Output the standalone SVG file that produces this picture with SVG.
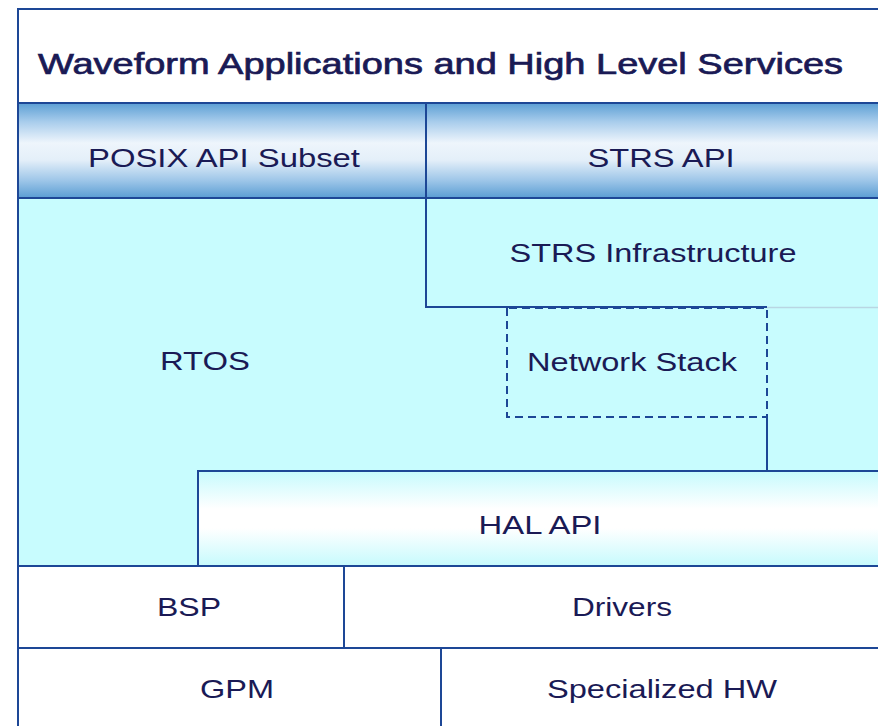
<svg xmlns="http://www.w3.org/2000/svg" width="878" height="726" viewBox="0 0 878 726">
<defs>
<linearGradient id="apiGrad" x1="0" y1="0" x2="0" y2="1">
<stop offset="0" stop-color="#5c9fd4"/>
<stop offset="0.2" stop-color="#a9cdec"/>
<stop offset="0.42" stop-color="#eef5fc"/>
<stop offset="0.6" stop-color="#e4eff9"/>
<stop offset="0.82" stop-color="#9cc5e8"/>
<stop offset="1" stop-color="#5a9dd3"/>
</linearGradient>
<linearGradient id="halGrad" x1="0" y1="0" x2="0" y2="1">
<stop offset="0" stop-color="#c6fafd"/>
<stop offset="0.4" stop-color="#ffffff"/>
<stop offset="0.6" stop-color="#ffffff"/>
<stop offset="1" stop-color="#c6fafd"/>
</linearGradient>
<style>
.ln{stroke:#1d4796;stroke-width:2;fill:none}
.lbl{font-family:"Liberation Sans",Arial,sans-serif;font-size:26px;fill:#1a1a55;text-anchor:middle}
.title{font-family:"Liberation Sans",Arial,sans-serif;font-size:29px;fill:#1a1a55;stroke:#1a1a55;stroke-width:0.7}
.cyan{fill:#c8fcfe}
</style>
</defs>
<rect width="878" height="726" fill="#ffffff"/>

<g id="title">
<rect x="18" y="8" width="860" height="95" fill="#ffffff"/>
<text class="title" x="38" y="74" textLength="805" lengthAdjust="spacingAndGlyphs">Waveform Applications and High Level Services</text>
</g>

<g id="posix-api">
<rect x="18" y="103" width="408" height="95" fill="url(#apiGrad)"/>
<text class="lbl" x="224" y="167" textLength="272" lengthAdjust="spacingAndGlyphs">POSIX API Subset</text>
</g>

<g id="strs-api">
<rect x="426" y="103" width="452" height="95" fill="url(#apiGrad)"/>
<text class="lbl" x="661" y="167" textLength="147" lengthAdjust="spacingAndGlyphs">STRS API</text>
</g>

<g id="rtos">
<rect class="cyan" x="18" y="198" width="860" height="368"/>
<text class="lbl" x="205" y="370" textLength="90" lengthAdjust="spacingAndGlyphs">RTOS</text>
</g>

<g id="strs-infrastructure">
<rect class="cyan" x="426" y="198" width="452" height="109"/>
<text class="lbl" x="653" y="262" textLength="287" lengthAdjust="spacingAndGlyphs">STRS Infrastructure</text>
</g>

<g id="network-stack">
<text class="lbl" x="632" y="371" textLength="210" lengthAdjust="spacingAndGlyphs">Network Stack</text>
</g>

<g id="hal-api">
<rect x="198" y="471" width="680" height="95" fill="url(#halGrad)"/>
<text class="lbl" x="540" y="534" textLength="123" lengthAdjust="spacingAndGlyphs">HAL API</text>
</g>

<g id="bsp">
<rect x="18" y="566" width="326" height="82" fill="#ffffff"/>
<text class="lbl" x="189" y="616" textLength="64" lengthAdjust="spacingAndGlyphs">BSP</text>
</g>

<g id="drivers">
<rect x="344" y="566" width="534" height="82" fill="#ffffff"/>
<text class="lbl" x="622" y="616" textLength="100" lengthAdjust="spacingAndGlyphs">Drivers</text>
</g>

<g id="gpm">
<rect x="18" y="648" width="423" height="78" fill="#ffffff"/>
<text class="lbl" x="237" y="698" textLength="74" lengthAdjust="spacingAndGlyphs">GPM</text>
</g>

<g id="specialized-hw">
<rect x="441" y="648" width="437" height="78" fill="#ffffff"/>
<text class="lbl" x="662" y="698" textLength="230" lengthAdjust="spacingAndGlyphs">Specialized HW</text>
</g>

<g id="connectors">
<path class="ln" d="M18 9 H878"/>
<path class="ln" d="M18 8 V726" stroke-width="2.5"/>
<path class="ln" d="M18 103 H878"/>
<path class="ln" d="M18 198 H878"/>
<path class="ln" d="M426 103 V307 H767"/>
<path d="M767 307.5 H878" stroke="#b9d6e3" stroke-width="1.5"/>
<path class="ln" d="M507 308 V417 H767 V308 H507" stroke-dasharray="8 5"/>
<path class="ln" d="M767 417 V471"/>
<path class="ln" d="M198 566 V471 H878"/>
<path class="ln" d="M18 566 H878"/>
<path class="ln" d="M344 566 V648"/>
<path class="ln" d="M18 648 H878"/>
<path class="ln" d="M441 648 V726"/>
</g>
</svg>
